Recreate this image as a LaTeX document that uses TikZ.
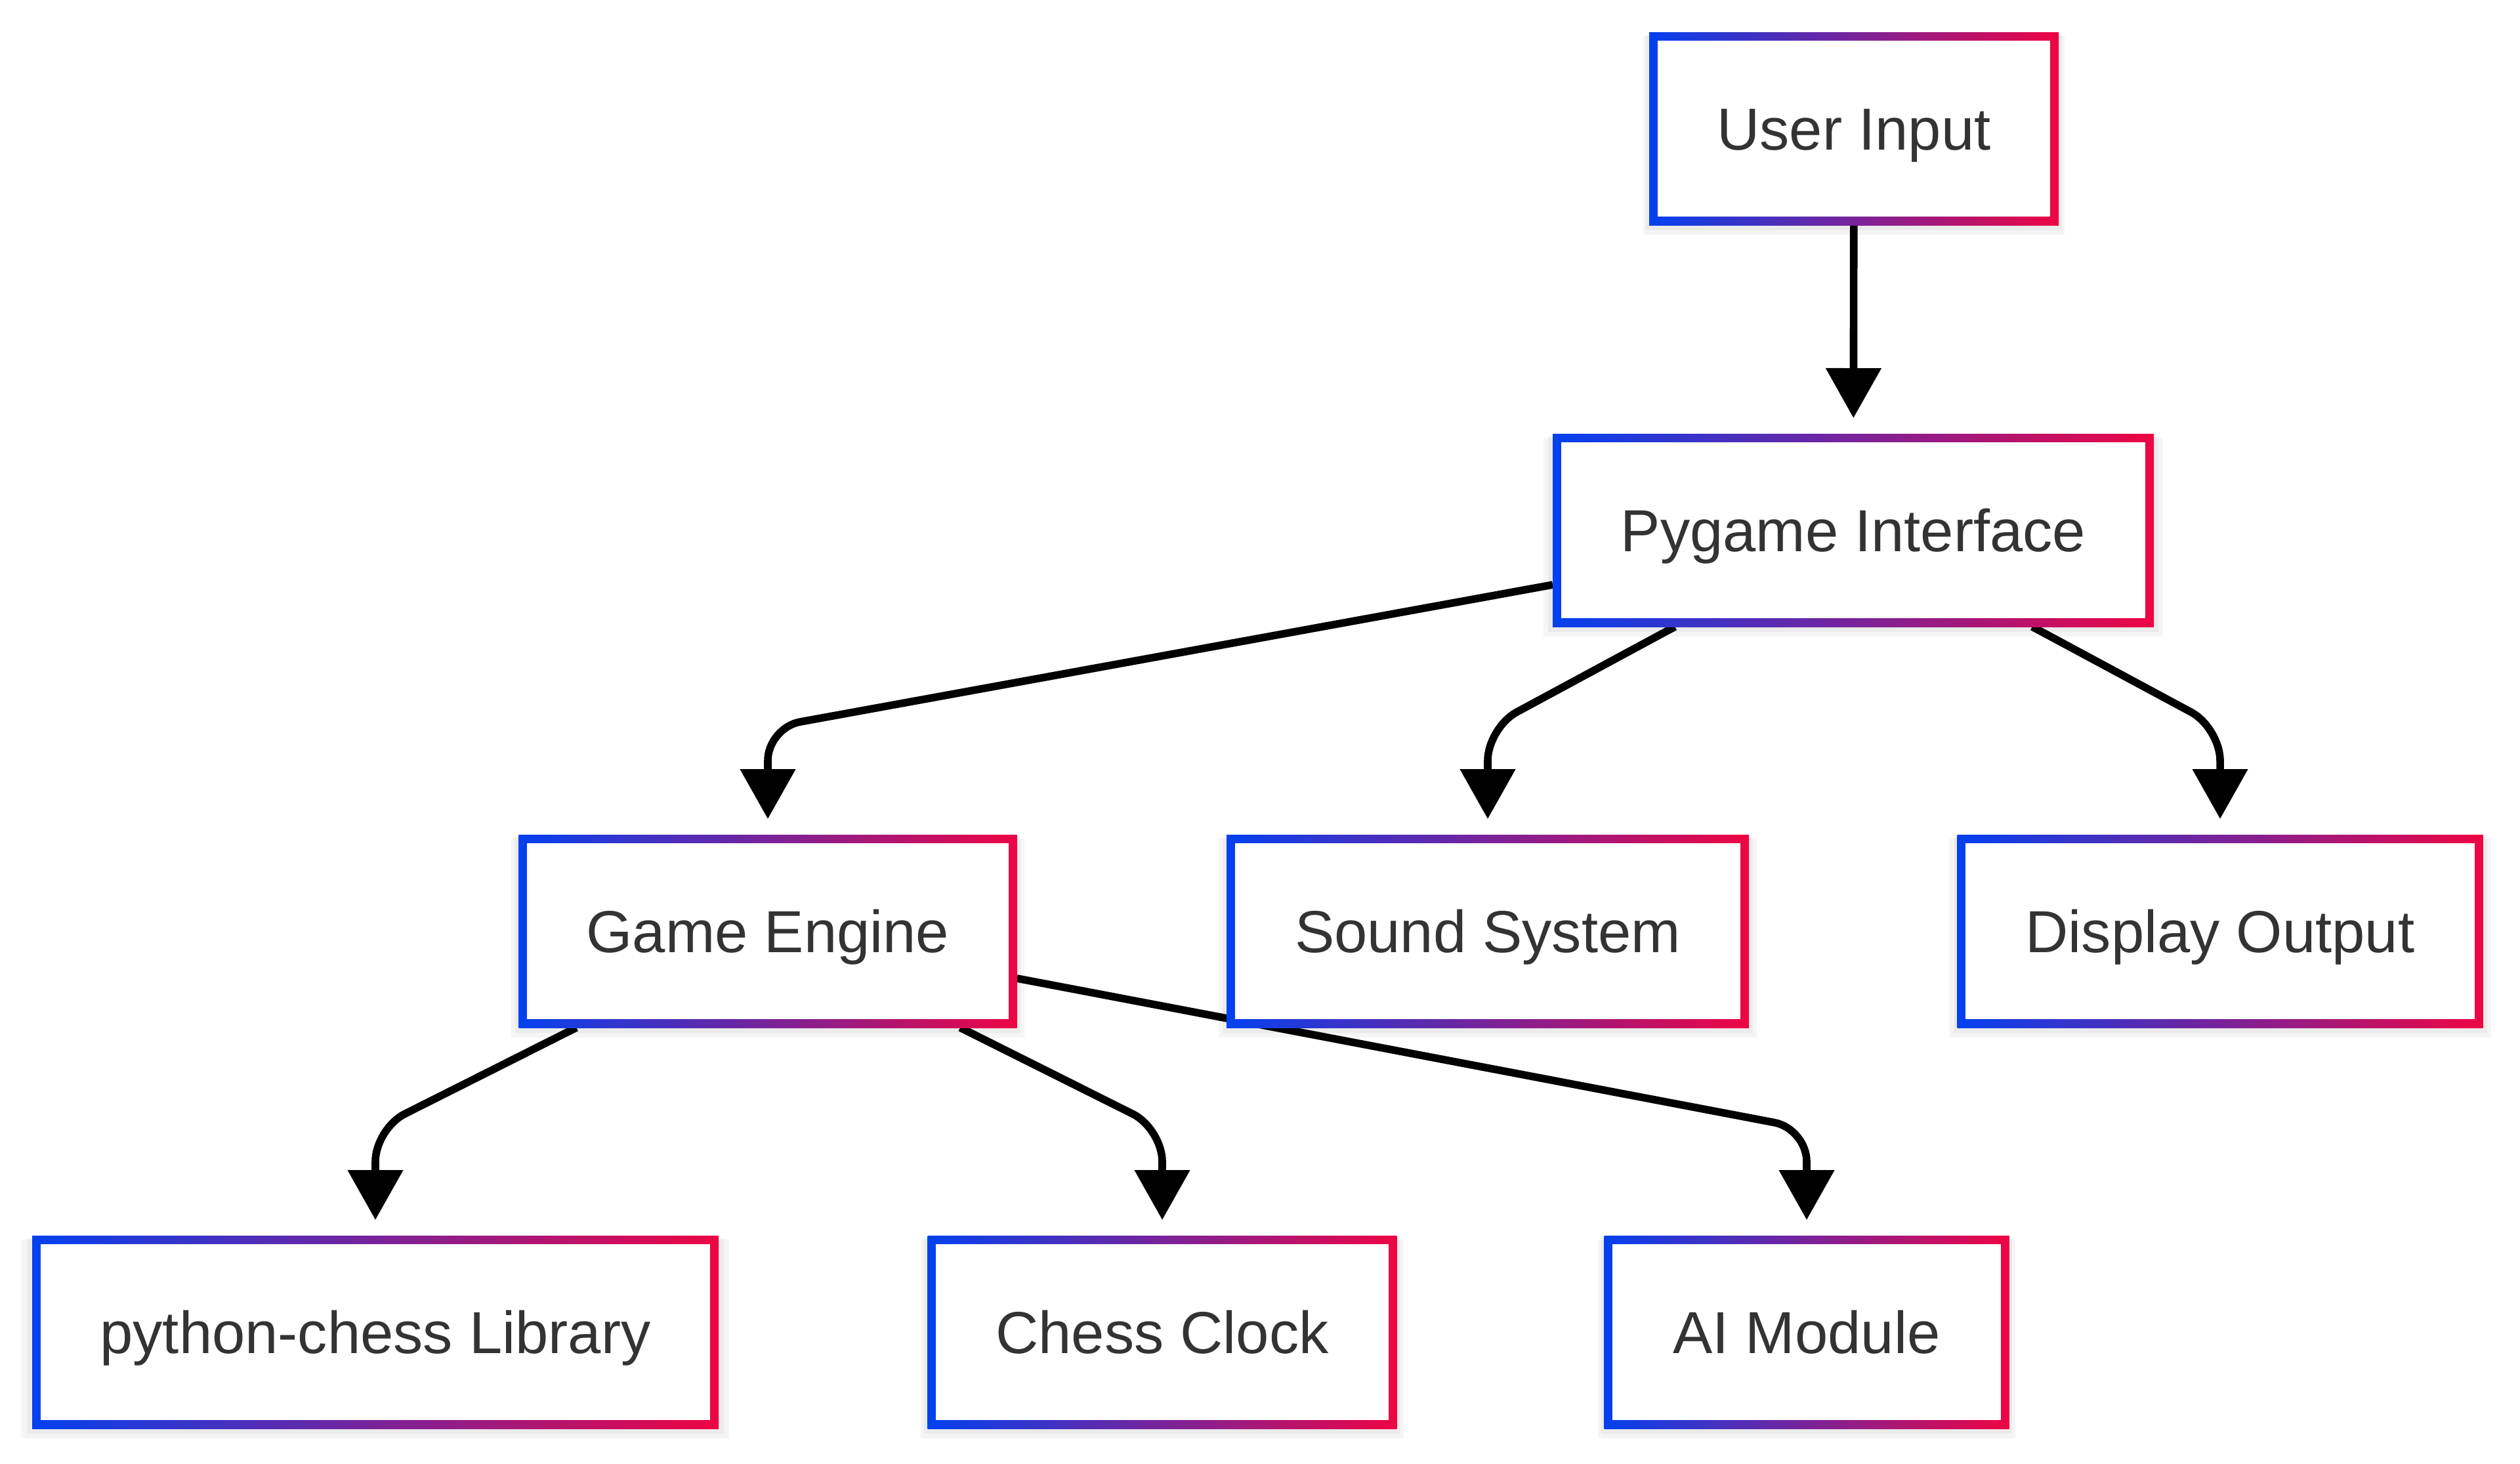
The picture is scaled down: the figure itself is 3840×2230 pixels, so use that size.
\documentclass[tikz,border=0pt]{standalone}
\usepackage{fontspec}
\setmainfont{Liberation Sans}
\usetikzlibrary{arrows.meta,shadows,backgrounds,calc}
\definecolor{gblue}{RGB}{3,65,240}
\definecolor{gred}{RGB}{238,5,68}
\definecolor{txt}{RGB}{51,51,51}
\tikzset{
  gbox/.style={rectangle, minimum height=73.5pt, inner sep=0pt, outer sep=0pt,
    text height=20.5pt, text depth=4.3pt,
    fill=white, text=txt, font=\fontsize{22.6}{27}\selectfont,
    drop shadow={shadow xshift=0pt, shadow yshift=-2.5pt, opacity=0.04, fill=black, shadow scale=1.03},
    drop shadow={shadow xshift=0pt, shadow yshift=-1.5pt, opacity=0.04, fill=black, shadow scale=1.015},
    path picture={
      \shade[left color=gblue, right color=gred]
        (path picture bounding box.south west) rectangle (path picture bounding box.north east);
      \fill[white] ([shift={(3.2pt,3.2pt)}]path picture bounding box.south west)
        rectangle ([shift={(-3.2pt,-3.2pt)}]path picture bounding box.north east);
    }
  },
  arr/.style={draw=black, line width=2.9pt, rounded corners=12.5pt,
    -{Triangle[width=20.5pt,length=19pt]}, shorten >=6pt}
}
\begin{document}
\begin{tikzpicture}[x=0.25pt,y=-0.25pt]
\useasboundingbox (0,0) rectangle (3840,2230);
\node[gbox, minimum width=156pt]    (UI) at (2825,196)  {User Input};
\node[gbox, minimum width=229pt]    (PI) at (2824,808)  {Pygame Interface};
\node[gbox, minimum width=189.75pt] (GE) at (1170,1419) {Game Engine};
\node[gbox, minimum width=199pt]    (SS) at (2267,1419) {Sound System};
\node[gbox, minimum width=200.25pt] (DO) at (3383,1419) {Display Output};
\node[gbox, minimum width=261.5pt]  (PL) at (572,2030)  {python-chess Library};
\node[gbox, minimum width=178.75pt] (CC) at (1771,2030) {Chess Clock};
\node[gbox, minimum width=154.25pt] (AI) at (2753,2030) {AI Module};
\begin{pgfonlayer}{background}
\fill[white] (0,0) rectangle (3840,2230);
\coordinate (cGE) at ([yshift=40.75pt]GE.north);
\coordinate (cSS) at ([yshift=40.75pt]SS.north);
\coordinate (cDO) at ([yshift=40.75pt]DO.north);
\coordinate (cPL) at ([yshift=40.75pt]PL.north);
\coordinate (cCC) at ([yshift=40.75pt]CC.north);
\coordinate (cAI) at ([yshift=40.75pt]AI.north);
\draw[arr] (UI) -- (PI);
\draw[arr] (PI) -- (cGE) -- (GE);
\draw[arr] (PI) -- (cSS) -- (SS);
\draw[arr] (PI) -- (cDO) -- (DO);
\draw[arr] (GE) -- (cPL) -- (PL);
\draw[arr] (GE) -- (cCC) -- (CC);
\draw[arr] (GE) -- (cAI) -- (AI);
\end{pgfonlayer}
\end{tikzpicture}
\end{document}
